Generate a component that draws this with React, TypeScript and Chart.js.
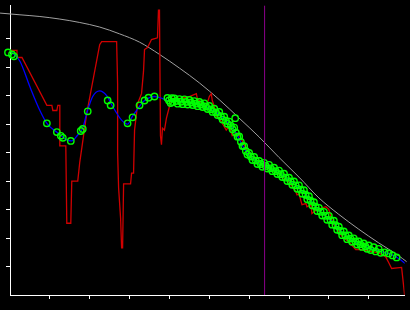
import { useEffect, useRef } from 'react';
import { Chart, registerables } from 'chart.js';

Chart.register(...registerables);

// Axis bounds (data units: 1 tick step per axis unit)
const X_MIN = 0;
const X_MAX = 9.9;
const Y_MIN = 0;
const Y_MAX = 10.17;
const TICK_VALUES = [1, 2, 3, 4, 5, 6, 7, 8, 9];

// Smooth gray reference curve
const grayCurve: [number, number][] = [
  [-0.25, 9.9], [0.25, 9.84], [0.75, 9.78], [1.25, 9.69], [1.75, 9.57], [2.25, 9.41],
  [2.75, 9.17], [3.25, 8.88], [3.75, 8.45], [4.25, 7.97], [4.75, 7.45], [5.25, 6.86],
  [5.75, 6.21], [6.25, 5.55], [6.75, 4.83], [7.25, 4.14], [7.75, 3.41], [8.25, 2.83],
  [8.75, 2.31], [9.25, 1.83], [9.75, 1.38], [9.95, 1.17],
];

// Noisy red trace
const redTrace: [number, number][] = [
  [0.025, 8.59], [0.175, 8.59], [0.175, 8.34], [0.3, 8.34], [0.925, 6.66], [1.05, 6.66],
  [1.075, 6.48], [1.175, 6.48], [1.2, 6.66], [1.25, 6.66], [1.25, 5.24], [1.4, 5.24],
  [1.425, 2.52], [1.525, 2.52], [1.55, 4.0], [1.7, 4.0], [1.75, 4.66], [1.925, 6.38],
  [2.25, 8.79], [2.3, 8.9], [2.675, 8.9], [2.7, 7.41], [2.7, 5.0], [2.725, 3.76],
  [2.775, 2.69], [2.8, 1.66], [2.825, 1.66], [2.85, 3.9], [3.025, 3.9], [3.05, 4.28],
  [3.1, 4.28], [3.125, 5.79], [3.175, 6.38], [3.2, 6.72], [3.3, 7.07], [3.35, 7.86],
  [3.375, 8.62], [3.45, 8.69], [3.55, 8.97], [3.7, 9.03], [3.725, 10.0], [3.75, 10.0],
  [3.775, 5.59], [3.8, 5.28], [3.825, 5.86], [3.875, 5.79], [3.925, 6.21], [4.0, 6.62],
  [4.075, 6.9], [4.25, 6.9], [4.5, 6.97], [4.675, 7.07], [4.7, 6.9], [4.825, 6.72],
  [4.925, 6.62], [5.0, 6.97], [5.05, 7.07], [5.075, 6.83], [5.125, 6.62], [5.175, 6.28],
  [5.25, 6.21], [5.425, 5.79], [5.5, 5.93], [5.575, 5.59], [5.675, 5.69], [5.75, 5.62],
  [5.875, 5.28], [6.0, 4.93], [6.25, 4.66], [6.5, 4.45], [6.75, 4.24], [7.0, 3.97],
  [7.175, 3.62], [7.2, 3.52], [7.25, 3.55], [7.325, 3.17], [7.425, 3.21], [7.45, 3.1],
  [7.55, 3.17], [7.575, 2.86], [7.7, 3.0], [7.925, 3.1], [8.0, 3.0], [8.1, 2.52],
  [8.175, 2.38], [8.325, 2.07], [8.5, 1.86], [8.675, 1.59], [8.825, 1.59], [9.075, 1.52],
  [9.25, 1.48], [9.425, 1.34], [9.5, 1.14], [9.575, 0.93], [9.825, 0.97], [9.9, 0.0],
];

// Smooth blue fit
const blueCurve: [number, number][] = [
  [0.025, 8.55], [0.25, 8.21], [0.5, 7.31], [0.75, 6.48], [0.925, 6.03], [1.2, 5.69],
  [1.425, 5.45], [1.55, 5.41], [1.7, 5.62], [1.825, 5.86], [1.925, 6.38], [2.075, 6.97],
  [2.25, 7.17], [2.425, 7.0], [2.575, 6.62], [2.8, 6.14], [2.95, 6.0], [3.075, 6.28],
  [3.175, 6.48], [3.3, 6.72], [3.375, 6.83], [3.5, 6.93], [3.625, 6.97], [3.825, 6.9],
  [3.95, 6.83], [4.125, 6.81], [4.25, 6.79], [4.375, 6.78], [4.5, 6.76], [4.625, 6.72],
  [4.75, 6.69], [4.875, 6.64], [5.0, 6.55], [5.125, 6.45], [5.25, 6.34], [5.375, 6.17],
  [5.5, 6.0], [5.625, 5.79], [5.75, 5.48], [5.875, 5.14], [6.0, 4.9], [6.125, 4.76],
  [6.25, 4.62], [6.375, 4.55], [6.5, 4.48], [6.625, 4.38], [6.75, 4.28], [6.875, 4.17],
  [7.0, 4.03], [7.125, 3.9], [7.25, 3.76], [7.375, 3.59], [7.5, 3.38], [7.625, 3.17],
  [7.75, 2.97], [7.875, 2.83], [8.0, 2.69], [8.125, 2.52], [8.25, 2.31], [8.375, 2.14],
  [8.5, 2.0], [8.625, 1.9], [8.75, 1.79], [8.875, 1.72], [9.0, 1.66], [9.125, 1.6],
  [9.25, 1.55], [9.375, 1.5], [9.5, 1.45], [9.625, 1.38], [9.75, 1.28], [9.925, 1.1],
];

// Sparse green markers along the first part
const greenSparse: [number, number][] = [
  [-0.05, 8.52], [0.05, 8.45], [0.1, 8.38], [0.925, 6.03], [1.175, 5.72], [1.275, 5.59],
  [1.325, 5.52], [1.525, 5.41], [1.775, 5.76], [1.825, 5.83], [1.95, 6.45], [2.45, 6.83],
  [2.525, 6.66], [2.95, 6.03], [3.075, 6.24], [3.25, 6.66], [3.375, 6.83], [3.475, 6.93],
  [3.625, 6.97], [5.65, 6.21],
];

// Dense green markers forming the band
const greenBand: [number, number][] = [
  [3.95, 6.92], [3.99, 6.83], [4.03, 6.74], [4.06, 6.91], [4.08, 6.78],
  [4.125, 6.9], [4.167, 6.81], [4.208, 6.72], [4.25, 6.88], [4.292, 6.79], [4.333, 6.7],
  [4.375, 6.87], [4.417, 6.78], [4.458, 6.69], [4.5, 6.85], [4.542, 6.76], [4.583, 6.67],
  [4.625, 6.81], [4.667, 6.72], [4.708, 6.63], [4.75, 6.78], [4.792, 6.69], [4.833, 6.6],
  [4.875, 6.73], [4.917, 6.62], [4.958, 6.53], [5.0, 6.64], [5.042, 6.52], [5.083, 6.43],
  [5.125, 6.54], [5.167, 6.41], [5.208, 6.32], [5.25, 6.43], [5.292, 6.28], [5.333, 6.16],
  [5.375, 6.26], [5.417, 6.12], [5.458, 6.01], [5.5, 6.09], [5.542, 5.95], [5.583, 5.82],
  [5.625, 5.88], [5.667, 5.7], [5.708, 5.56], [5.75, 5.57], [5.792, 5.38], [5.833, 5.23],
  [5.875, 5.23], [5.917, 5.06], [5.958, 4.93], [6.0, 4.99], [6.042, 4.86], [6.083, 4.74],
  [6.125, 4.85], [6.167, 4.72], [6.208, 4.6], [6.25, 4.71], [6.292, 4.6], [6.333, 4.5],
  [6.375, 4.64], [6.417, 4.53], [6.458, 4.44], [6.5, 4.57], [6.542, 4.45], [6.583, 4.35],
  [6.625, 4.47], [6.667, 4.35], [6.708, 4.25], [6.75, 4.37], [6.792, 4.24], [6.833, 4.14],
  [6.875, 4.26], [6.917, 4.12], [6.958, 4.0], [7.0, 4.12], [7.042, 3.99], [7.083, 3.87],
  [7.125, 3.99], [7.167, 3.85], [7.208, 3.73], [7.25, 3.85], [7.292, 3.7], [7.333, 3.56],
  [7.375, 3.68], [7.417, 3.52], [7.458, 3.36], [7.5, 3.47], [7.542, 3.31], [7.583, 3.15],
  [7.625, 3.26], [7.667, 3.1], [7.708, 2.95], [7.75, 3.06], [7.792, 2.92], [7.833, 2.79],
  [7.875, 2.92], [7.917, 2.78], [7.958, 2.64], [8.0, 2.78], [8.042, 2.63], [8.083, 2.47],
  [8.125, 2.61], [8.167, 2.45], [8.208, 2.29], [8.25, 2.4], [8.292, 2.25], [8.333, 2.1],
  [8.375, 2.23], [8.417, 2.09], [8.458, 1.96], [8.5, 2.09], [8.542, 1.98], [8.583, 1.87],
  [8.625, 1.99], [8.667, 1.88], [8.708, 1.77], [8.75, 1.88], [8.792, 1.78], [8.833, 1.69],
  [8.875, 1.81], [8.917, 1.71], [8.958, 1.62], [9.0, 1.74], [9.05, 1.58], [9.125, 1.68],
  [9.175, 1.53], [9.25, 1.62], [9.3, 1.48], [9.4, 1.5], [9.5, 1.46], [9.6, 1.39], [9.7, 1.32],
];

// Vertical marker line
const markerX = 6.3875;
const markerLine: [number, number][] = [[markerX, Y_MIN], [markerX, Y_MAX]];

const toPts = (arr: [number, number][]) => arr.map(([x, y]) => ({ x, y }));

const axisColor = '#ffffff';

function axis(min: number, max: number) {
  return {
    type: 'linear' as const,
    min,
    max,
    ticks: { display: false, stepSize: 1, includeBounds: false },
    afterBuildTicks: (scale: any) => {
      scale.ticks = TICK_VALUES.filter((v) => v > min && v < max).map((v) => ({ value: v }));
    },
    grid: { drawOnChartArea: false, color: axisColor, tickLength: 4, lineWidth: 1, drawTicks: true },
    border: { color: axisColor, width: 1 },
  };
}

export default function App() {
  const ref = useRef<HTMLCanvasElement>(null);
  useEffect(() => {
    if (!ref.current) return;
    const chart = new Chart(ref.current, {
      type: 'scatter',
      data: {
        datasets: [
          {
            label: 'marker',
            data: toPts(markerLine),
            showLine: true,
            borderColor: '#8c008c',
            borderWidth: 1,
            pointRadius: 0,
          },
          {
            label: 'points',
            data: toPts([...greenSparse, ...greenBand]),
            showLine: false,
            pointRadius: 3.2,
            pointBorderWidth: 1.4,
            borderColor: '#00ff00',
            pointBorderColor: '#00ff00',
            backgroundColor: 'rgba(0,0,0,0)',
            pointBackgroundColor: 'rgba(0,0,0,0)',
            clip: false,
          },
          {
            label: 'fit',
            data: toPts(blueCurve),
            showLine: true,
            borderColor: '#0000ff',
            borderWidth: 1.3,
            pointRadius: 0,
            cubicInterpolationMode: 'monotone',
          },
          {
            label: 'raw',
            data: toPts(redTrace),
            showLine: true,
            borderColor: '#d00000',
            borderWidth: 1.3,
            pointRadius: 0,
            tension: 0,
          },
          {
            label: 'envelope',
            data: toPts(grayCurve),
            showLine: true,
            borderColor: '#a0a0a0',
            borderWidth: 1,
            pointRadius: 0,
            cubicInterpolationMode: 'monotone',
            clip: false,
          },
        ],
      } as any,
      options: {
        responsive: false,
        animation: false,
        devicePixelRatio: 1,
        layout: { padding: { left: 6, right: 4, top: 0, bottom: 11 } },
        plugins: { legend: { display: false }, tooltip: { enabled: false } },
        events: [],
        scales: {
          x: axis(X_MIN, X_MAX),
          y: axis(Y_MIN, Y_MAX),
        } as any,
      },
    });
    return () => chart.destroy();
  }, []);
  return (
    <div style={{ position: 'fixed', left: 0, top: 0, width: 410, height: 310, background: '#000' }}>
      <canvas ref={ref} width={410} height={310} style={{ display: 'block' }} />
    </div>
  );
}
